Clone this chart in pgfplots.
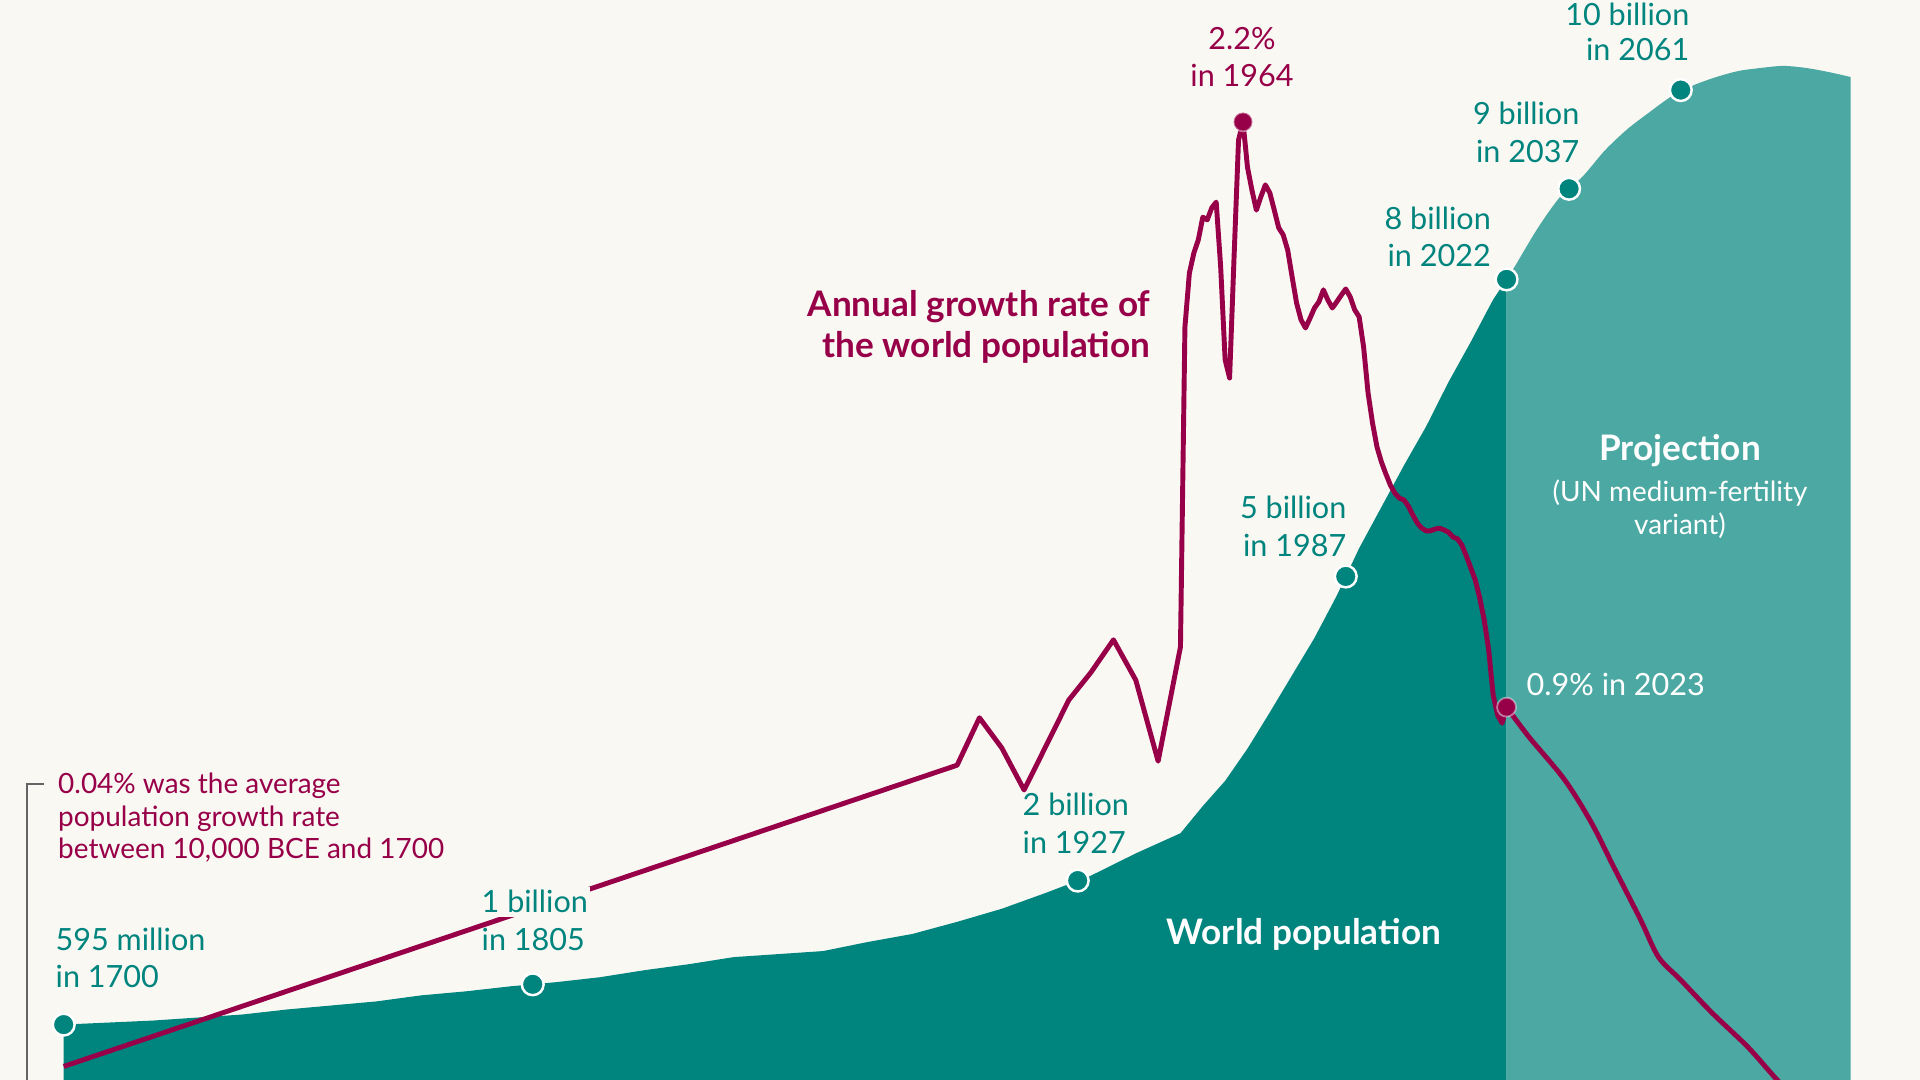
\documentclass[border=0pt]{standalone}
\usepackage{pgfplots}
\pgfplotsset{compat=1.18}
\usepackage{fontspec}
\setmainfont{Lato}
\definecolor{bg}{RGB}{250,248,243}
\definecolor{owidteal}{RGB}{0,132,126}
\definecolor{projteal}{RGB}{76,168,162}
\definecolor{maroon}{RGB}{151,0,72}
\definecolor{bracket}{RGB}{100,100,100}
\newcommand{\lbl}{\fontsize{8.7}{10.4}\selectfont}
\newcommand{\note}{\fontsize{7.95}{9.4}\selectfont}
\newcommand{\head}{\fontsize{10}{12}\selectfont\bfseries}
\begin{document}
\begin{tikzpicture}
\useasboundingbox (0,0) rectangle (19.2,10.8);
\fill[bg] (0,0) rectangle (19.2,10.8);
\pgfplotsset{base/.style={at={(0,0)},anchor=south west,width=19.2cm,height=10.8cm,
  scale only axis,hide axis,xmin=1685.74,xmax=2115.56}}
% world population, billions
\begin{axis}[base,ymin=0.0497,ymax=10.7746]
\addplot[fill=owidteal,draw=none] coordinates {
(1700,0.60)(1710,0.62)(1720,0.64)(1730,0.67)(1740,0.70)(1750,0.75)(1760,0.79)
(1770,0.83)(1780,0.89)(1790,0.93)(1800,0.98)(1810,1.02)(1820,1.07)(1830,1.14)
(1840,1.20)(1850,1.27)(1860,1.30)(1870,1.33)(1880,1.42)(1890,1.50)(1900,1.62)
(1910,1.75)(1920,1.91)(1930,2.08)(1940,2.30)(1950,2.50)(1955,2.77)(1960,3.02)
(1965,3.34)(1970,3.70)(1975,4.07)(1980,4.44)(1985,4.86)(1990,5.33)(1995,5.74)
(2000,6.15)(2005,6.54)(2010,6.98)(2015,7.38)(2020,7.80)(2023,8.00)} \closedcycle;
\addplot[fill=projteal,draw=none,smooth] coordinates {
(2023,8.00)(2025,8.14)(2030,8.51)(2035,8.82)(2040,9.02)(2045,9.28)(2050,9.49)
(2055,9.66)(2060,9.82)(2065,9.93)(2070,10.01)(2075,10.07)(2080,10.10)(2085,10.12)
(2090,10.10)(2095,10.06)(2100,10.01)} \closedcycle;
\addplot[owidteal,only marks,mark=*,mark size=3.1pt,mark options={fill=owidteal,draw=white,line width=0.7pt}]
coordinates {(1700,0.60)(1805,1.0)(1927,2.03)(1987,5.05)(2023,8.0)(2037,8.90)(2062,9.88)};
\end{axis}
% annual growth rate, percent
\begin{axis}[base,ymin=0.0384,ymax=2.4763]
\addplot[maroon,line width=1.4pt,line join=round] coordinates {
(1700,0.069)(1900,0.749)(1905,0.856)(1910,0.788)(1915,0.693)(1925,0.896)(1930,0.959)
(1935,1.032)(1940,0.941)(1945,0.758)(1950,1.016)(1951,1.738)(1952,1.860)(1953,1.905)
(1954,1.935)(1955,1.986)(1956,1.980)(1957,2.007)(1958,2.020)(1959,1.874)(1960,1.664)
(1961,1.623)(1962,1.896)(1963,2.160)(1964,2.201)(1965,2.099)(1966,2.047)(1967,2.002)
(1968,2.032)(1969,2.059)(1970,2.041)(1971,2.002)(1972,1.962)(1973,1.946)(1974,1.912)
(1975,1.851)(1976,1.792)(1977,1.754)(1978,1.736)(1979,1.758)(1980,1.781)(1981,1.795)
(1982,1.822)(1983,1.799)(1984,1.781)(1985,1.795)(1986,1.810)(1987,1.824)(1988,1.806)
(1989,1.777)(1990,1.761)(1991,1.693)(1992,1.589)(1993,1.521)(1994,1.467)(1995,1.433)
(1996,1.406)(1997,1.381)(1998,1.363)(1999,1.352)(2000,1.348)(2001,1.334)(2002,1.314)
(2003,1.296)(2004,1.284)(2005,1.278)(2006,1.278)(2007,1.282)(2008,1.284)(2009,1.280)
(2010,1.275)(2011,1.264)(2012,1.260)(2013,1.246)(2014,1.221)(2015,1.194)(2016,1.167)
(2017,1.126)(2018,1.077)(2019,1.009)(2020,0.907)(2021,0.862)(2022,0.844)(2023,0.880)};
\addplot[maroon,line width=1.4pt,smooth] coordinates {
(2023,0.880)(2028,0.813)(2036,0.716)(2042,0.619)(2047,0.519)(2053,0.400)(2057,0.316)
(2062,0.264)(2069,0.190)(2077,0.113)(2083,0.045)(2090,-0.03)};
\addplot[maroon,only marks,mark=*,mark size=2.7pt,mark options={fill=maroon,draw=white,draw opacity=0.45,line width=0.5pt}]
coordinates {(1964,2.201)(2023,0.880)};
\end{axis}
% annotations
\draw[bracket,line width=0.7pt] (0.27,0) -- (0.27,2.96) -- (0.44,2.96);
\begin{scope}[every node/.style={inner sep=0pt}]
\node[anchor=base west,text=maroon,font=\note] at (0.575,2.86) {0.04\% was the average};
\node[anchor=base west,text=maroon,font=\note] at (0.575,2.53) {population growth rate};
\node[anchor=base west,text=maroon,font=\note] at (0.575,2.21) {between 10,000 BCE and 1700};
\node[anchor=base west,text=owidteal,font=\lbl] at (0.55,1.29) {595 million};
\node[anchor=base west,text=owidteal,font=\lbl] at (0.55,0.92) {in 1700};
\node[anchor=base west,text=owidteal,font=\lbl,fill=bg,inner xsep=0.6pt,inner ysep=1pt,xshift=-0.6pt] at (4.81,1.67) {1 billion};
\node[anchor=base west,text=owidteal,font=\lbl] at (4.81,1.29) {in 1805};
\node[anchor=base west,text=owidteal,font=\lbl] at (10.22,2.645) {2 billion};
\node[anchor=base west,text=owidteal,font=\lbl] at (10.22,2.265) {in 1927};
\node[anchor=base east,text=owidteal,font=\lbl] at (13.47,5.61) {5 billion};
\node[anchor=base east,text=owidteal,font=\lbl] at (13.47,5.23) {in 1987};
\node[anchor=base east,text=owidteal,font=\lbl] at (14.915,8.50) {8 billion};
\node[anchor=base east,text=owidteal,font=\lbl] at (14.915,8.13) {in 2022};
\node[anchor=base east,text=owidteal,font=\lbl] at (15.80,9.55) {9 billion};
\node[anchor=base east,text=owidteal,font=\lbl] at (15.80,9.17) {in 2037};
\node[anchor=base east,text=owidteal,font=\lbl] at (16.90,10.54) {10 billion};
\node[anchor=base east,text=owidteal,font=\lbl] at (16.90,10.19) {in 2061};
\node[anchor=base,text=maroon,font=\lbl] at (12.42,10.30) {2.2\%};
\node[anchor=base,text=maroon,font=\lbl] at (12.42,9.93) {in 1964};
\node[anchor=base west,text=white,font=\lbl] at (15.26,3.845) {0.9\% in 2023};
\node[anchor=base east,text=maroon,font=\head] at (11.51,7.63) {Annual growth rate of};
\node[anchor=base east,text=maroon,font=\head] at (11.51,7.22) {the world population};
\node[anchor=base,text=white,font=\head] at (13.04,1.35) {World population};
\node[anchor=base,text=white,font=\head] at (16.80,6.19) {Projection};
\node[anchor=base,text=white,font=\note] at (16.80,5.78) {(UN medium-fertility};
\node[anchor=base,text=white,font=\note] at (16.80,5.45) {variant)};
\end{scope}
\end{tikzpicture}
\end{document}
